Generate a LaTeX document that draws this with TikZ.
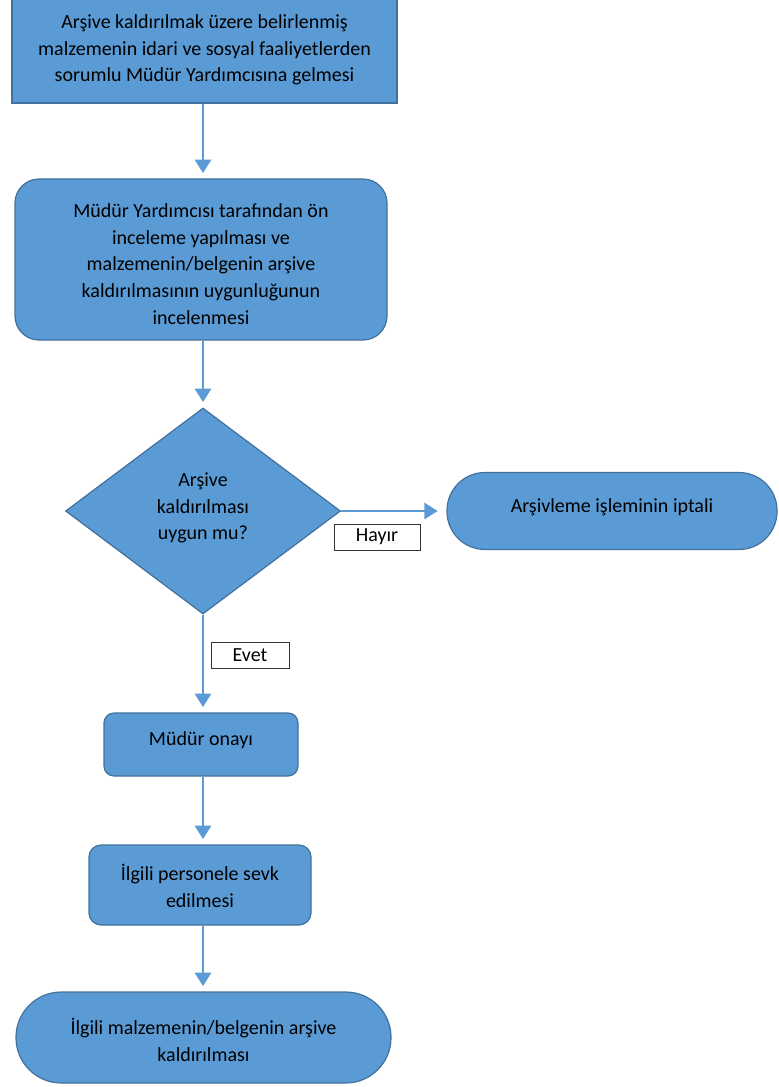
\documentclass[tikz,border=0pt]{standalone}
\usepackage{fontspec}
\setmainfont{Carlito}
\usetikzlibrary{shapes.geometric,arrows.meta}
\definecolor{boxfill}{HTML}{5B9BD5}
\definecolor{boxline}{HTML}{41719C}
\definecolor{arrowc}{HTML}{5B9BD5}
\begin{document}
\begin{tikzpicture}[x=0.75pt,y=-0.75pt,
  every node/.style={font=\fontsize{15pt}{20pt}\selectfont, align=center, inner sep=0pt, text=black},
  topbox/.style={rectangle, fill=boxfill, draw=boxline, line width=2pt},
  rbox/.style={rectangle, fill=boxfill, draw=boxline, line width=0.9pt},
  dbox/.style={diamond, fill=boxfill, draw=boxline, line width=0.9pt},
  lbl/.style={rectangle, fill=white, draw=black!80, line width=0.6pt},
  flow/.style={draw=arrowc, line width=2pt, -{Triangle[width=12pt,length=10pt]}, shorten >=4pt}
]
\useasboundingbox (0,0) rectangle (778,1087);
\node[topbox, minimum width=288.75pt, minimum height=79.5pt] (n1) at (204.5,50)
  {Arşive kaldırılmak üzere belirlenmiş\\malzemenin idari ve sosyal faaliyetlerden\\sorumlu Müdür Yardımcısına gelmesi};
\node[rbox, rounded corners=18pt, minimum width=279pt, minimum height=120.75pt] (n2) at (201,259.5) {};
\node (n2t) at (201,264)
  {Müdür Yardımcısı tarafından ön\\inceleme yapılması ve\\malzemenin/belgenin arşive\\kaldırılmasının uygunluğunun\\incelenmesi};
\node[dbox, minimum width=206.25pt, minimum height=154.5pt] (n3) at (203,511) {};
\node (n3t) at (203,508) {Arşive\\kaldırılması\\uygun mu?};
\node[rbox, rounded corners=28.5pt, minimum width=247.5pt, minimum height=57.75pt] (n4) at (612,511) {};
\node (n4t) at (612,507) {Arşivleme işleminin iptali};
\node[lbl, minimum width=64.5pt, minimum height=19.5pt] (hayir) at (377,537) {Hayır};
\node[lbl, minimum width=58.5pt, minimum height=19.5pt] (evet) at (250,655) {Evet};
\node[rbox, rounded corners=7.5pt, minimum width=145.5pt, minimum height=47.25pt] (n5) at (201,744.5) {};
\node (n5t) at (201,740) {Müdür onayı};
\node[rbox, rounded corners=9pt, minimum width=166.5pt, minimum height=60pt] (n6) at (200,885) {};
\node (n6t) at (200,886) {İlgili personele sevk\\edilmesi};
\node[rbox, rounded corners=34pt, minimum width=281.25pt, minimum height=68.25pt] (n7) at (203.5,1037.5) {};
\node (n7t) at (203.5,1040) {İlgili malzemenin/belgenin arşive\\kaldırılması};
\draw[flow] (n1.south -| 203,0) -- (n2.north -| 203,0);
\draw[flow] (n2.south -| 203,0) -- (n3.north);
\draw[flow, shorten >=6.5pt] (n3.east) -- (n4.west);
\draw[flow] (n3.south) -- (n5.north -| n3.south);
\draw[flow] (n5.south -| 203,0) -- (n6.north -| 203,0);
\draw[flow] (n6.south -| 203,0) -- (n7.north -| 203,0);
\end{tikzpicture}
\end{document}
